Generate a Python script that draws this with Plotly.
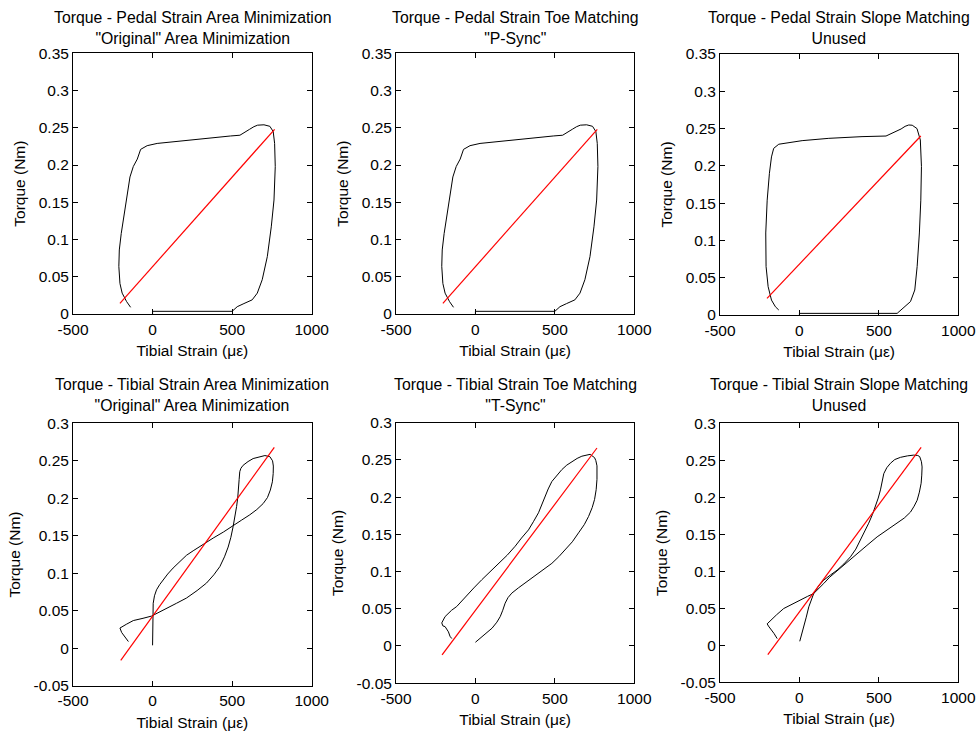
import plotly.graph_objects as go

# ---------------- data ----------------
X_TICKS = [-500, 0, 500, 1000]
X_TICK_TEXT = ["-500", "0", "500", "1000"]
Y_TICKS_TOP = [0, 0.05, 0.1, 0.15, 0.2, 0.25, 0.3, 0.35]
Y_TICK_TEXT_TOP = ["0", "0.05", "0.1", "0.15", "0.2", "0.25", "0.3", "0.35"]
Y_TICKS_BOTTOM = [-0.05, 0, 0.05, 0.1, 0.15, 0.2, 0.25, 0.3]
Y_TICK_TEXT_BOTTOM = ["-0.05", "0", "0.05", "0.1", "0.15", "0.2", "0.25", "0.3"]

TITLES = [
    "Torque - Pedal Strain Area Minimization<br>\"Original\" Area Minimization",
    "Torque - Pedal Strain Toe Matching<br>\"P-Sync\"",
    "Torque - Pedal Strain Slope Matching<br>Unused",
    "Torque - Tibial Strain Area Minimization<br>\"Original\" Area Minimization",
    "Torque - Tibial Strain Toe Matching<br>\"T-Sync\"",
    "Torque - Tibial Strain Slope Matching<br>Unused",
]
X_TITLE = "Tibial Strain (με)"
Y_TITLE = "Torque (Nm)"

# Pedal strain loop (area minimization / toe matching)
pedal_x = [0, 0, 500, 505, 532, 574, 626, 658, 689, 721, 746, 763, 771, 767, 758,
           737, 700, 660, 637, 610, 585, 549, 490, 400, 302, 200, 134, 29, -34,
           -75, -96, -121, -142, -159, -176, -197, -209, -212, -205, -191, -163, -138]
pedal_y = [0.0, 0.0036, 0.0036, 0.0045, 0.0098, 0.014, 0.019, 0.028, 0.046, 0.077,
           0.117, 0.153, 0.198, 0.229, 0.245, 0.252, 0.254, 0.2535, 0.2515, 0.248,
           0.245, 0.240, 0.239, 0.237, 0.2345, 0.2325, 0.231, 0.229, 0.226, 0.221,
           0.208, 0.198, 0.184, 0.162, 0.135, 0.108, 0.086, 0.064, 0.041, 0.028,
           0.0166, 0.009]
pedal_fit_x = [-205, 767]
pedal_fit_y = [0.0143, 0.248]

# Pedal strain loop (slope matching)
pedal_slope_x = [0, 0, 615, 657, 699, 726, 741, 755, 764, 768, 761, 740, 710, 688,
                 665, 640, 545, 394, 185, 17, -130, -162, -176, -189, -203, -212,
                 -210, -197, -176, -151, -130]
pedal_slope_y = [0.0, 0.0022, 0.0022, 0.0103, 0.018, 0.0335, 0.065, 0.11, 0.154,
                 0.199, 0.2347, 0.250, 0.2545, 0.2548, 0.253, 0.2495, 0.240, 0.2392,
                 0.2369, 0.2338, 0.229, 0.2235, 0.212, 0.19, 0.154, 0.11, 0.065,
                 0.038, 0.020, 0.011, 0.0067]
pedal_slope_fit_x = [-204, 764]
pedal_slope_fit_y = [0.0224, 0.240]

# Tibial strain loop (area minimization)
tibial_area_x = [0, 0, 1, 4, 12, 25, 45, 66, 95, 129, 170, 213, 255, 297, 340, 381,
                 445, 506, 560, 611, 655, 695, 722, 740, 753, 758, 759, 754, 737,
                 706, 670, 632, 600, 569, 555, 548, 544, 540, 535, 528, 518, 506,
                 492, 475, 452, 423, 385, 339, 280, 213, 150, 88, 40, -6, -60,
                 -121, -165, -205, -194, -175, -152]
tibial_area_y = [0.004, 0.02, 0.042, 0.06, 0.07, 0.078, 0.085, 0.091, 0.099, 0.107,
                 0.116, 0.124, 0.130, 0.136, 0.142, 0.147, 0.155, 0.164, 0.171,
                 0.178, 0.185, 0.193, 0.201, 0.211, 0.222, 0.233, 0.243, 0.250,
                 0.2555, 0.257, 0.2555, 0.253, 0.249, 0.244, 0.240, 0.2355, 0.225,
                 0.211, 0.200, 0.189, 0.175, 0.162, 0.148, 0.135, 0.122, 0.109,
                 0.098, 0.087, 0.077, 0.067, 0.060, 0.053, 0.048, 0.043, 0.040,
                 0.037, 0.032, 0.027, 0.021, 0.015, 0.009]
tibial_area_fit_x = [-200, 765]
tibial_area_fit_y = [-0.016, 0.268]

# Tibial strain loop (toe matching, T-Sync)
tibial_toe_x = [0, 40, 75, 105, 135, 156, 172, 187, 205, 229, 270, 313, 355, 397,
                440, 481, 525, 565, 610, 649, 685, 712, 735, 750, 760, 765, 766,
                765, 758, 750, 722, 695, 670, 640, 607, 575, 544, 510, 481, 458,
                439, 420, 397, 365, 334, 290, 250, 200, 145, 90, 40, -10, -65,
                -95, -118, -150, -191, -212, -205, -191, -178, -170, -160, -149]
tibial_toe_y = [0.005, 0.0125, 0.018, 0.024, 0.032, 0.0395, 0.048, 0.0575, 0.065,
                0.071, 0.078, 0.0845, 0.091, 0.098, 0.104, 0.111, 0.120, 0.129,
                0.140, 0.152, 0.163, 0.174, 0.186, 0.197, 0.210, 0.224, 0.235,
                0.242, 0.249, 0.253, 0.2575, 0.2565, 0.255, 0.252, 0.248, 0.243,
                0.237, 0.229, 0.221, 0.211, 0.201, 0.190, 0.179, 0.167, 0.156,
                0.145, 0.134, 0.122, 0.111, 0.100, 0.089, 0.078, 0.066, 0.059,
                0.053, 0.048, 0.0395, 0.031, 0.027, 0.026, 0.022, 0.019, 0.013,
                0.010]
tibial_toe_fit_x = [-210, 765]
tibial_toe_fit_y = [-0.012, 0.266]

# Tibial strain loop (slope matching)
tibial_slope_x = [2, 15, 27, 43, 59, 75, 90, 120, 153, 195, 237, 280, 321, 355, 384,
                  412, 436, 460, 478, 496, 510, 522, 531, 550, 573, 600, 636, 680,
                  719, 745, 757, 768, 772, 770, 766, 755, 741, 722, 699, 660, 615,
                  550, 489, 425, 363, 300, 237, 190, 153, 120, 90, 50, 6, -50, -99,
                  -145, -182, -203, -195, -182, -160, -140]
tibial_slope_y = [0.0054, 0.015, 0.025, 0.038, 0.052, 0.062, 0.070, 0.080, 0.088,
                  0.095, 0.1015, 0.110, 0.1195, 0.130, 0.142, 0.154, 0.165, 0.177,
                  0.187, 0.199, 0.210, 0.222, 0.232, 0.240, 0.246, 0.251, 0.254,
                  0.256, 0.257, 0.2565, 0.255, 0.248, 0.241, 0.230, 0.219, 0.207,
                  0.196, 0.188, 0.180, 0.172, 0.165, 0.156, 0.1465, 0.135, 0.124,
                  0.112, 0.1015, 0.092, 0.0835, 0.077, 0.070, 0.066, 0.061, 0.055,
                  0.0497, 0.041, 0.034, 0.029, 0.026, 0.0226, 0.016, 0.009]
tibial_slope_fit_x = [-199, 766]
tibial_slope_fit_y = [-0.0126, 0.2675]

PANELS = [
    (pedal_x, pedal_y, pedal_fit_x, pedal_fit_y),
    (pedal_x, pedal_y, pedal_fit_x, pedal_fit_y),
    (pedal_slope_x, pedal_slope_y, pedal_slope_fit_x, pedal_slope_fit_y),
    (tibial_area_x, tibial_area_y, tibial_area_fit_x, tibial_area_fit_y),
    (tibial_toe_x, tibial_toe_y, tibial_toe_fit_x, tibial_toe_fit_y),
    (tibial_slope_x, tibial_slope_y, tibial_slope_fit_x, tibial_slope_fit_y),
]

# ---------------- layout (pixel boxes of each axes) ----------------
W, H = 976, 733
BOXES = [
    (73, 311.7, 53.3, 314),
    (396, 634.3, 53.3, 314),
    (720, 958.3, 54, 315),
    (73, 311.7, 423.3, 685.8),
    (396, 634.3, 422.7, 683.2),
    (720, 958.3, 423.3, 682.3),
]
FONT = "Arial, 'Liberation Sans', Helvetica, sans-serif"
FS = 15.5

fig = go.Figure()
layout = dict(
    width=W, height=H,
    margin=dict(l=0, r=0, t=0, b=0, pad=0, autoexpand=False),
    paper_bgcolor="white", plot_bgcolor="white",
    showlegend=False,
    font=dict(family=FONT, size=FS, color="black"),
    annotations=[],
)

for i, ((px, py, fx, fy), (x0, x1, y0, y1)) in enumerate(zip(PANELS, BOXES)):
    n = "" if i == 0 else str(i + 1)
    xa, ya = "x" + n, "y" + n
    fig.add_trace(go.Scatter(x=px, y=py, mode="lines", xaxis=xa, yaxis=ya,
                             line=dict(color="black", width=1), hoverinfo="skip"))
    fig.add_trace(go.Scatter(x=fx, y=fy, mode="lines", xaxis=xa, yaxis=ya,
                             line=dict(color="#ff0000", width=1.2), hoverinfo="skip"))
    top = i < 3
    common = dict(showline=True, linecolor="black", linewidth=1, mirror="ticks",
                  ticks="inside", ticklen=5, tickcolor="black", tickwidth=1,
                  showgrid=False, zeroline=False, automargin=False,
                  tickfont=dict(family=FONT, size=FS, color="black"))
    layout["xaxis" + n] = dict(
        common, domain=[x0 / W, x1 / W], anchor=ya, range=[-500, 1000],
        tickmode="array", tickvals=X_TICKS, ticktext=X_TICK_TEXT,
        ticklabelstandoff=1,
        title=dict(text=X_TITLE, standoff=8, font=dict(family=FONT, size=FS)))
    layout["yaxis" + n] = dict(
        common, domain=[1 - y1 / H, 1 - y0 / H], anchor=xa,
        range=[0, 0.35] if top else [-0.05, 0.3],
        tickmode="array",
        tickvals=Y_TICKS_TOP if top else Y_TICKS_BOTTOM,
        ticktext=Y_TICK_TEXT_TOP if top else Y_TICK_TEXT_BOTTOM,
        title=dict(text=Y_TITLE, standoff=9, font=dict(family=FONT, size=FS)))
    title_center = 27.5 if top else 395.5
    layout["annotations"].append(dict(
        text=TITLES[i], xref="paper", yref="paper",
        x=(x0 + x1) / 2 / W, y=1 - title_center / H,
        xanchor="center", yanchor="middle", showarrow=False,
        font=dict(family=FONT, size=15.8, color="black")))

fig.update_layout(**layout)
fig.write_html(
    "out.html",
    config={"displayModeBar": False, "staticPlot": True},
    post_script="document.body.style.margin='0';document.body.style.overflow='hidden';",
)
